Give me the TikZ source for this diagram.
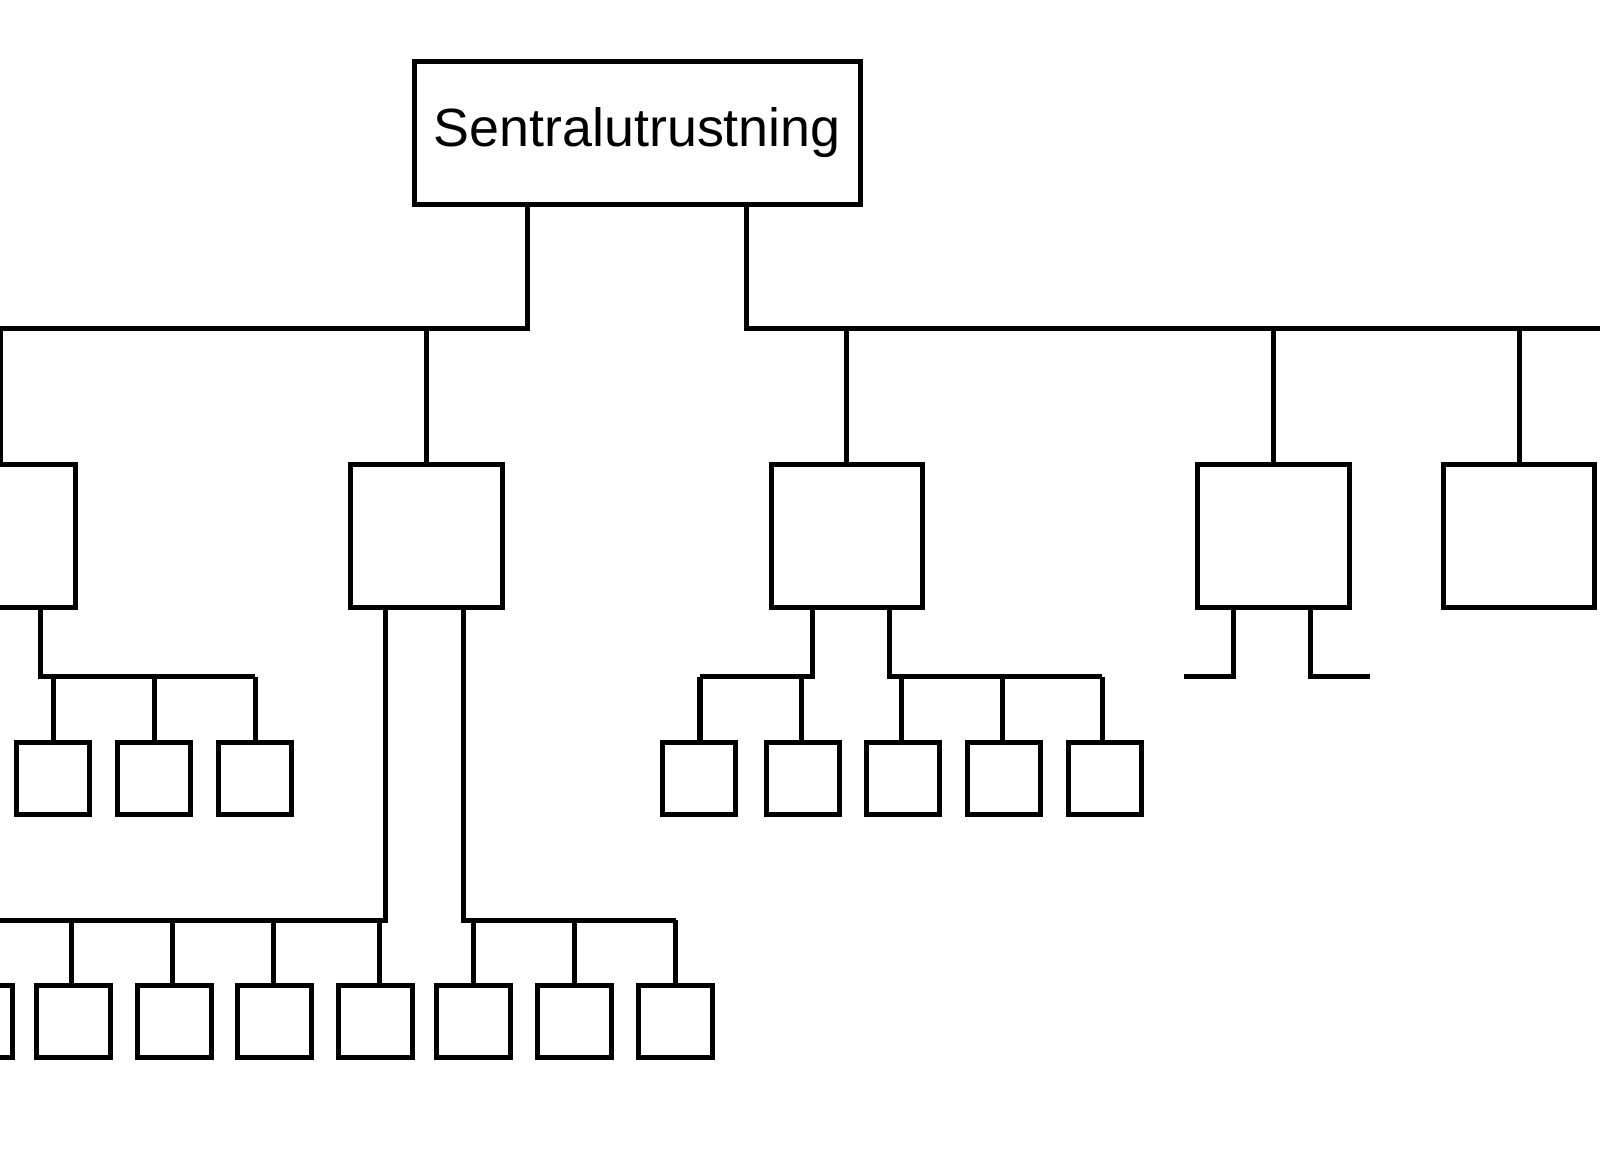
\documentclass[tikz,border=0pt]{standalone}
\usepackage{fontspec}
\setmainfont{Liberation Sans}
\begin{document}
\begin{tikzpicture}[x=0.01cm,y=-0.01cm,line width=1.4pt,
unit/.style = {draw, minimum width=1.48cm, minimum height=1.4cm, inner sep=0pt},
leaf/.style = {draw, minimum width=0.72cm, minimum height=0.7cm, inner sep=0pt},
wire/.style = {draw}
]
\useasboundingbox (0,0) rectangle (1568,1150);
\begin{scope}
\clip (0,0) rectangle (1568,1150);
% central unit
\node [draw, minimum width=4.37cm, minimum height=1.4cm, font=\fontsize{15}{15}\selectfont] (top) at (624.5,130) {Sentralutrustning};
\coordinate (tl) at (517,200);
\coordinate (tr) at (732,200);
% second level
\node [unit] (ua) at (0,525) {};
\node [unit] (ub) at (418,525) {};
\node [unit] (uc) at (830,525) {};
\node [unit] (ud) at (1248,525) {};
\node [unit] (ue) at (1489,525) {};
\draw (tl) -- (517,322) -| (ua.north);
\draw (517,322) -| (ub.north);
\draw (tr) -- (732,322) -- (1600,322);
\foreach \u in {uc,ud,ue}
  \draw (\u.north |- 0,322) -- (\u.north);
% leaves of ua
\foreach \x [count=\i] in {52,151,250}
  \node [leaf] (a\i) at (\x,763) {};
\draw (40,595) -- (40,663) -- (250,663);
\foreach \i in {1,2,3}
  \draw (a\i.north |- 0,663) -- (a\i.north);
% leaves of ub
\foreach \x [count=\i] in {-24,72,171,269,368}
  \node [leaf] (bl\i) at (\x,1001) {};
\foreach \x [count=\i] in {464,563,662}
  \node [leaf] (br\i) at (\x,1001) {};
\draw (378,595) -- (378,902) -- (-30,902);
\draw (454,595) -- (454,902) -- (662,902);
\foreach \i/\x in {2/70,3/169,4/268,5/372}
  \draw (\x,902) -- (\x,966);
\foreach \i in {1,2,3}
  \draw (br\i.north |- 0,902) -- (br\i.north);
% leaves of uc
\foreach \x [count=\i] in {685,787,885,984,1083}
  \node [leaf] (c\i) at (\x,763) {};
\draw (796,595) -- (796,663) -- (686,663);
\draw (872,595) -- (872,663) -- (1080,663);
\foreach \x in {686,785,883,982,1080}
  \draw (\x,663) -- (\x,728);
% stubs of ud
\draw (1209,595) -- (1209,663) -- (1160,663);
\draw (1284,595) -- (1284,663) -- (1343,663);
\end{scope}
\end{tikzpicture}
\end{document}
